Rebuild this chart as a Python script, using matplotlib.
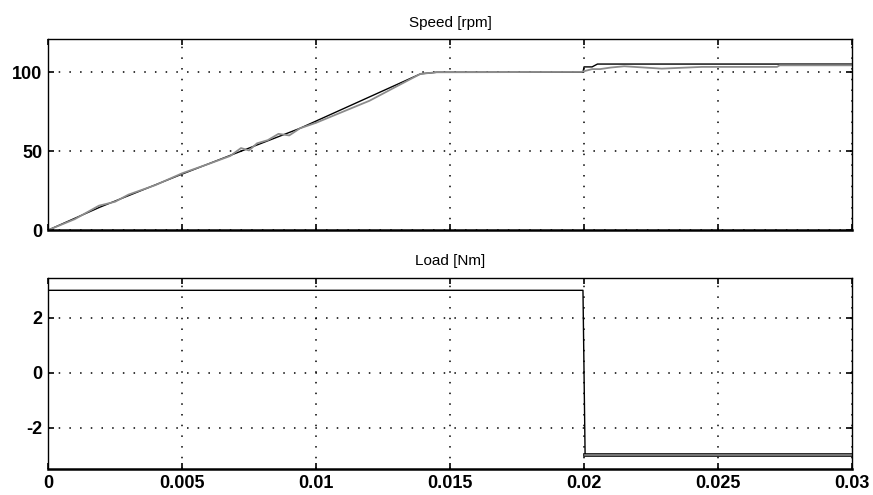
"""Speed and load step response, two stacked panels (MATLAB-style scope look)."""
import matplotlib

matplotlib.use("Agg")
import matplotlib.pyplot as plt

plt.rcParams["axes.unicode_minus"] = False

# speed reference / measured speed [rpm] over time [s]
SPEED_REF_T = [0.0, 0.00194, 0.005, 0.0094, 0.0139, 0.0145, 0.01996, 0.02000, 0.0203, 0.0205, 0.03]
SPEED_REF_V = [0.0, 14.6, 35.5, 64.5, 99.0, 100.0, 100.0, 103.4, 103.4, 105.2, 105.2]

SPEED_MEAS_T = [0.0, 0.0010, 0.0019, 0.0025, 0.0030, 0.0040, 0.0050, 0.0060, 0.0068, 0.0072,
                0.0075, 0.0078, 0.0082, 0.0086, 0.0090, 0.0094, 0.0100, 0.0110, 0.0120,
                0.0130, 0.0139, 0.0145, 0.0199, 0.0203, 0.0206, 0.0210, 0.0215, 0.0229,
                0.0244, 0.0272, 0.0273, 0.0300]
SPEED_MEAS_V = [0.0, 7.0, 15.5, 18.0, 22.5, 28.5, 36.0, 42.0, 47.0, 52.0,
                50.5, 55.0, 57.0, 61.0, 60.0, 64.5, 68.0, 75.0, 82.0,
                91.0, 99.0, 100.0, 100.2, 102.0, 102.0, 103.0, 103.8, 102.3,
                103.4, 103.4, 104.4, 104.4]

# load torque [Nm]
LOAD_T = [0.0, 0.01996, 0.02004, 0.03]
LOAD_V = [3.0, 3.0, -3.0, -3.0]

X_TICKS = [0, 0.005, 0.01, 0.015, 0.02, 0.025, 0.03]
X_LABELS = ["0", "0.005", "0.01", "0.015", "0.02", "0.025", "0.03"]
SPEED_TICKS = [0, 50, 100]
LOAD_TICKS = [-2, 0, 2]

FONT = ["Liberation Sans", "DejaVu Sans"]


def style_axes(ax):
    ax.set_xlim(0, 0.03)
    ax.set_xticks(X_TICKS)
    ax.grid(True, color="black", linestyle=(0, (1, 6)), linewidth=1.1)
    ax.tick_params(direction="in", length=4, width=1.2, top=True, right=True,
                   labelsize=13, pad=4)
    for side in ("top", "left", "right"):
        ax.spines[side].set_linewidth(1.0)
    ax.spines["bottom"].set_linewidth(1.8)
    for lab in ax.get_xticklabels() + ax.get_yticklabels():
        lab.set_family(FONT)
        lab.set_fontweight("bold")


fig = plt.figure(figsize=(8.73, 4.95), dpi=100)
ax1 = fig.add_axes([0.055, 0.535, 0.921, 0.386])
ax2 = fig.add_axes([0.055, 0.0525, 0.921, 0.386])

# top: speed
ax1.plot(SPEED_REF_T, SPEED_REF_V, color="black", linewidth=1.0)
ax1.plot(SPEED_MEAS_T, SPEED_MEAS_V, color="#8c8c8c", linewidth=1.3)
ax1.set_ylim(0, 121)
ax1.set_yticks(SPEED_TICKS)
style_axes(ax1)
ax1.set_xticklabels([])
ax1.set_title("Speed [rpm]", fontsize=11, family=FONT, pad=9)

# bottom: load
ax2.plot(LOAD_T, LOAD_V, color="black", linewidth=1.0)
ax2.plot(LOAD_T[2:], LOAD_V[2:], color="black", linewidth=2.6)
ax2.plot(LOAD_T[2:], LOAD_V[2:], color="#8c8c8c", linewidth=1.2)
ax2.set_ylim(-3.5, 3.45)
ax2.set_yticks(LOAD_TICKS)
style_axes(ax2)
ax2.set_xticklabels(X_LABELS)
for lab in ax2.get_xticklabels():
    lab.set_family(FONT)
    lab.set_fontweight("bold")
ax2.set_title("Load [Nm]", fontsize=11, family=FONT, pad=9)

fig.savefig("out.png", dpi=100)
